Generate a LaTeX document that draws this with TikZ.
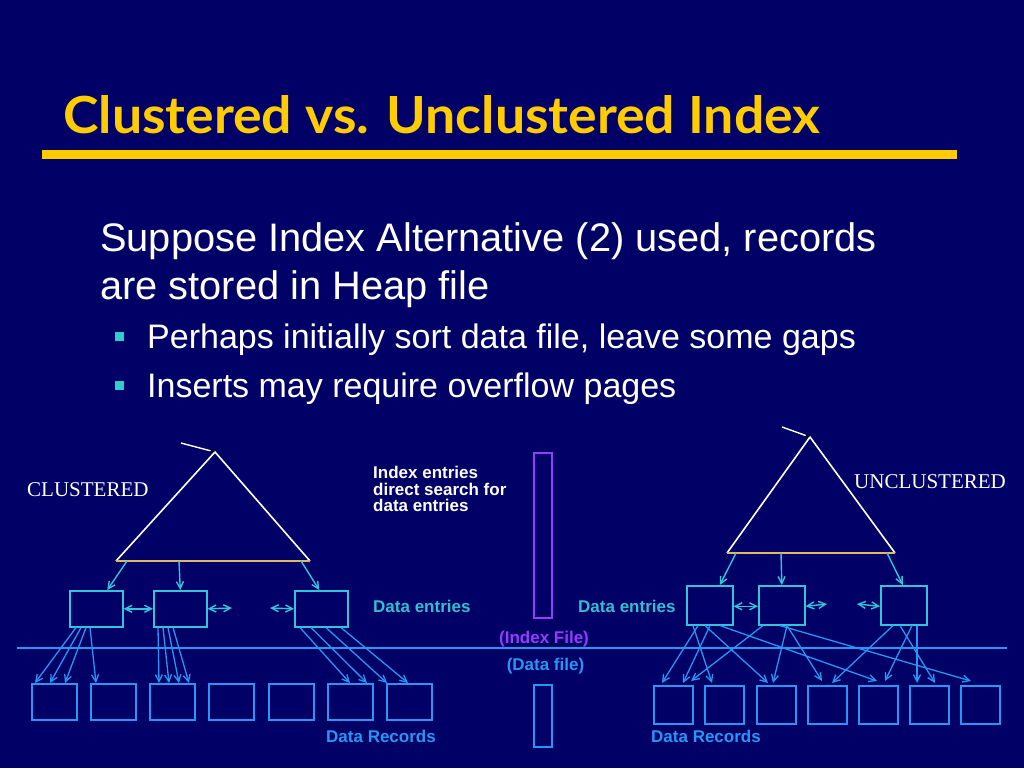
\documentclass[tikz,border=0pt]{standalone}
\usepackage{fontspec}
\setmainfont{Liberation Sans}
\newfontfamily\serifcap{Liberation Serif}
\newfontfamily\titlefnt{Lato}
\usetikzlibrary{arrows.meta}
\definecolor{bg}{RGB}{0,0,102}
\definecolor{gold}{RGB}{255,204,0}
\definecolor{tealc}{RGB}{51,196,220}
\definecolor{tealtxt}{RGB}{51,190,210}
\definecolor{recblue}{RGB}{40,150,245}
\definecolor{idxpurple}{RGB}{150,60,255}
\definecolor{basecol}{RGB}{225,185,100}
\definecolor{bullcol}{RGB}{51,204,204}
\begin{document}
\begin{tikzpicture}[x=1pt,y=-1pt,
  body/.style={anchor=base west, inner sep=0, text=white, font=\fontsize{39.8}{48}\selectfont},
  sub/.style={anchor=base west, inner sep=0, text=white, font=\fontsize{34}{41}\selectfont},
  bull/.style={fill=bullcol, minimum size=9pt, inner sep=0},
  serlabel/.style={anchor=base west, inner sep=0, text=white, font=\serifcap\fontsize{21}{24}\selectfont},
  lbl/.style={anchor=base west, inner sep=0, font=\bfseries\fontsize{17}{20}\selectfont},
  lentry/.style={draw=tealc, line width=1.6pt, minimum width=53pt, minimum height=36pt, inner sep=0, anchor=north west},
  rentry/.style={draw=tealc, line width=1.6pt, minimum width=46pt, minimum height=39pt, inner sep=0, anchor=north west},
  lrec/.style={draw=recblue, line width=1.6pt, minimum width=45pt, minimum height=36pt, inner sep=0, anchor=north west},
  rrec/.style={draw=recblue, line width=1.6pt, minimum width=39pt, minimum height=38pt, inner sep=0, anchor=north west},
  tri/.style={draw=white, line width=1.6pt, line join=miter},
  basel/.style={draw=basecol, line width=1.6pt},
  tarrow/.style={draw=tealc, line width=1.4pt, -{Straight Barb[length=7pt,width=7pt]}},
  darrow/.style={draw=tealc, line width=1.4pt, {Straight Barb[length=7pt,width=7pt]}-{Straight Barb[length=7pt,width=7pt]}},
  rarrow/.style={draw=recblue, line width=1.3pt, -{Straight Barb[length=7pt,width=7pt]}},
  apex/.style={draw=white, line width=1.4pt, -{Stealth[length=6pt,width=4pt,black]}}
]
\fill[bg] (0,0) rectangle (1024,768);
\useasboundingbox (0,0) rectangle (1024,768);

% title
\node[anchor=base west, inner sep=0, text=gold] (title) at (63,133)
  {\resizebox{757pt}{38pt}{\titlefnt\bfseries Clustered vs. Unclustered Index}};
\node[fill=gold, minimum width=915pt, minimum height=9pt, inner sep=0, anchor=north west] (bar) at (42,150) {};

% body text
\node[body] (l1) at (100,251) {Suppose Index Alternative (2) used, records};
\node[body] (l2) at (100,299) {are stored in Heap file};
\node[bull] (b1) at (119.5,336.5) {};
\node[sub] (s1t) at (147,348) {Perhaps initially sort data file, leave some gaps};
\node[bull] (b2) at (119.5,385.5) {};
\node[sub] (s2t) at (147,397) {Inserts may require overflow pages};

% ---------- left: clustered ----------
\node[serlabel] (clab) at (27,496) {CLUSTERED};
\coordinate (lt) at (215,452);
\coordinate (lbl) at (116,561);
\coordinate (lbr) at (310,561);
\draw[tri] (lbl) -- (lt) -- (lbr);
\draw[basel] (lbl) -- (lbr);
\coordinate (lap) at (181,443);
\draw[apex] (lap) -- (lt);

\node[lentry] (le1) at (69,590) {};
\node[lentry] (le2) at (153,590) {};
\node[lentry] (le3) at (294,590) {};

\coordinate (lb1) at (127,561);
\coordinate (lb2) at (179,561);
\coordinate (lb3) at (301,561);
\draw[tarrow] (lb1) -- ([xshift=11pt]le1.north);
\draw[tarrow] (lb2) -- (le2.north);
\draw[tarrow] (lb3) -- ([xshift=-2pt]le3.north);

\coordinate (lg1) at (232,608);
\coordinate (lg2) at (270,608);
\draw[darrow] (le1.east) -- (le2.west);
\draw[darrow] (le2.east) -- (lg1);
\draw[darrow] (lg2) -- (le3.west);

\node[lrec] (r1) at (31,683) {};
\node[lrec] (r2) at (90,683) {};
\node[lrec] (r3) at (149,683) {};
\node[lrec] (r4) at (208,683) {};
\node[lrec] (r5) at (268,683) {};
\node[lrec] (r6) at (327,683) {};
\node[lrec] (r7) at (386,683) {};

\draw[rarrow] ([xshift=7pt]le1.south west) -- ([xshift=4pt]r1.north west);
\draw[rarrow] ([xshift=12pt]le1.south west) -- ([xshift=19pt]r1.north west);
\draw[rarrow] ([xshift=17pt]le1.south west) -- ([xshift=34pt]r1.north west);
\draw[rarrow] ([xshift=21pt]le1.south west) -- ([xshift=6pt]r2.north west);

\draw[rarrow] ([xshift=5pt]le2.south west) -- ([xshift=10pt]r3.north west);
\draw[rarrow] ([xshift=10pt]le2.south west) -- ([xshift=20pt]r3.north west);
\draw[rarrow] ([xshift=15pt]le2.south west) -- ([xshift=30pt]r3.north west);
\draw[rarrow] ([xshift=20pt]le2.south west) -- ([xshift=40pt]r3.north west);

\draw[rarrow] ([xshift=6pt]le3.south west) -- ([xshift=23pt]r6.north west);
\draw[rarrow] ([xshift=17pt]le3.south west) -- ([xshift=40pt]r6.north west);
\draw[rarrow] ([xshift=32pt]le3.south west) -- ([xshift=1pt]r7.north west);
\draw[rarrow] ([xshift=47pt]le3.south west) -- ([xshift=22pt]r7.north west);

\node[lbl, text=recblue] (ldr) at (326,742) {Data Records};

% ---------- middle ----------
\node[lbl, text=white] (ie1) at (373,478) {Index entries};
\node[lbl, text=white] (ie2) at (373,495) {direct search for};
\node[lbl, text=white] (ie3) at (373,511) {data entries};
\node[lbl, text=tealtxt] (de1) at (373,612) {Data entries};
\node[lbl, text=tealtxt] (de2) at (578,612) {Data entries};
\node[draw=idxpurple, line width=1.6pt, minimum width=18pt, minimum height=165pt, inner sep=0, anchor=north west] (ifile) at (533,452) {};
\node[draw=recblue, line width=1.6pt, minimum width=18pt, minimum height=62pt, inner sep=0, anchor=north west] (dfile) at (533,684) {};
\node[lbl, anchor=base, text=idxpurple] (ift) at (544,643) {(Index File)};
\node[lbl, anchor=base, text=recblue] (dft) at (545.5,670) {(Data file)};

\coordinate (hl1) at (17,648);
\coordinate (hl2) at (1007,648);
\draw[recblue, line width=1.5pt] (hl1) -- (hl2);

% ---------- right: unclustered ----------
\node[serlabel] (ulab) at (854,488) {UNCLUSTERED};
\coordinate (rt) at (810,437);
\coordinate (rbl) at (727,553);
\coordinate (rbr) at (895,553);
\draw[tri] (rbl) -- (rt) -- (rbr);
\draw[basel] (rbl) -- (rbr);
\coordinate (rap) at (782,427);
\draw[apex] (rap) -- (rt);

\node[rentry] (ra) at (686,585) {};
\node[rentry] (rb) at (758,585) {};
\node[rentry] (rc) at (880,585) {};

\coordinate (rb1) at (736,553);
\coordinate (rb2) at (781,553);
\coordinate (rb3) at (887,553);
\draw[tarrow] (rb1) -- ([xshift=10pt]ra.north);
\draw[tarrow] (rb2) -- (rb.north);
\draw[tarrow] (rb3) -- ([xshift=-1pt]rc.north);

\coordinate (rg1) at (827,604);
\coordinate (rg2) at (857,604);
\draw[darrow] ([yshift=-1pt]ra.east) -- ([yshift=-1pt]rb.west);
\draw[darrow] ([yshift=-1pt]rb.east) -- (rg1);
\draw[darrow] (rg2) -- ([yshift=-1pt]rc.west);

\node[rrec] (q1) at (653,685) {};
\node[rrec] (q2) at (704,685) {};
\node[rrec] (q3) at (756,685) {};
\node[rrec] (q4) at (807,685) {};
\node[rrec] (q5) at (858,685) {};
\node[rrec] (q6) at (909,685) {};
\node[rrec] (q7) at (960,685) {};

\draw[rarrow] ([xshift=12pt]ra.south west) -- ([xshift=9pt,yshift=2pt]q1.north west);
\draw[rarrow] ([xshift=24pt]ra.south west) -- ([xshift=30pt,yshift=2pt]q1.north west);
\draw[rarrow] ([xshift=7pt]ra.south west) -- ([xshift=8pt,yshift=2pt]q2.north west);
\draw[rarrow] ([xshift=19pt]ra.south west) -- ([xshift=12pt,yshift=2pt]q3.north west);
\draw[rarrow] ([xshift=34pt]ra.south west) -- ([xshift=19pt,yshift=4pt]q5.north west);

\draw[rarrow] ([xshift=5pt]rb.south west) -- ([xshift=38pt,yshift=4pt]q1.north west);
\draw[rarrow] ([xshift=29pt]rb.south west) -- ([xshift=17pt,yshift=2pt]q3.north west);
\draw[rarrow] ([xshift=29pt]rb.south west) -- ([xshift=15pt,yshift=4pt]q4.north west);
\draw[rarrow] ([xshift=22pt]rb.south west) -- ([xshift=11pt,yshift=4pt]q7.north west);

\draw[rarrow] ([xshift=13pt]rc.south west) -- ([xshift=25pt,yshift=2pt]q4.north west);
\draw[rarrow] ([xshift=32pt]rc.south west) -- ([xshift=27pt,yshift=4pt]q5.north west);
\draw[rarrow] ([xshift=37pt]rc.south west) -- ([xshift=8pt,yshift=2pt]q6.north west);
\draw[rarrow] ([xshift=20pt]rc.south west) -- ([xshift=26pt,yshift=2pt]q6.north west);

\node[lbl, text=recblue] (rdr) at (651,742) {Data Records};
\end{tikzpicture}
\end{document}
